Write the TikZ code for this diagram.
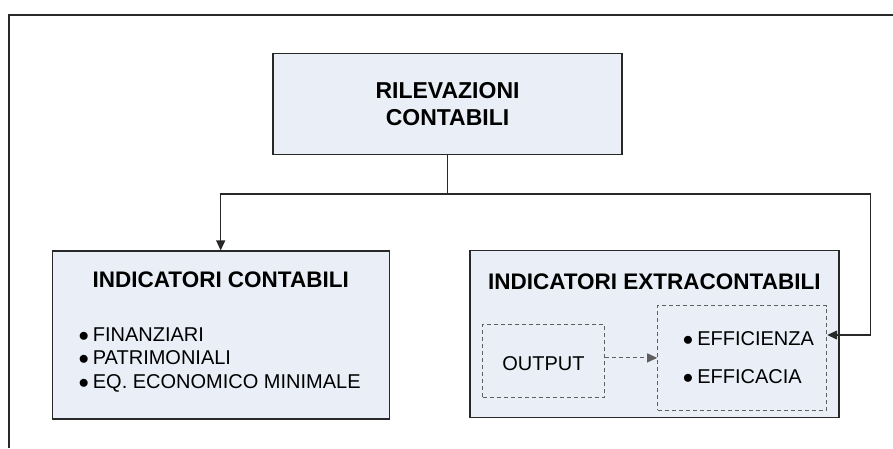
\documentclass[tikz,border=0pt]{standalone}
\usepackage{fontspec}
\setmainfont{Liberation Sans}
\usetikzlibrary{arrows.meta}
\definecolor{boxfill}{RGB}{234,239,247}
\definecolor{boxline}{RGB}{40,40,40}
\definecolor{dashline}{RGB}{95,95,95}

\begin{document}
\begin{tikzpicture}[x=1pt,y=-1pt,
    mainbox/.style={draw=boxline,line width=1.2pt,fill=boxfill,inner sep=0pt},
    dashbox/.style={draw=dashline,line width=1pt,dash pattern=on 4pt off 3pt,inner sep=0pt},
    boldtxt/.style={font=\fontsize{22.5}{27}\selectfont\bfseries,align=center,inner sep=0pt},
    itemtxt/.style={font=\fontsize{20}{24}\selectfont,inner sep=0pt,text height=14.3pt,text depth=0pt,anchor=west},
    conn/.style={draw=boxline,line width=1.2pt},
    tip/.style={-{Triangle[length=10pt,width=9pt]}}]
            \useasboundingbox (0,0) rectangle (893,448);
            \fill[white] (0,0) rectangle (893,448);
            \draw[boxline,line width=1.2pt] (9,448) -- (9,15) -- (893,15);
            % boxes
            \node[mainbox,minimum width=349pt,minimum height=101pt] (rilev) at (447.5,103.8) {};
            \node[mainbox,minimum width=337pt,minimum height=168pt] (contab) at (220.7,335) {};
            \node[mainbox,minimum width=369pt,minimum height=167.5pt] (extra) at (654.5,334) {};
            \node[dashbox,minimum width=121.6pt,minimum height=73.4pt] (output) at (543.5,361) {};
            \node[dashbox,minimum width=169pt,minimum height=104.3pt] (effic) at (742.2,357.9) {};
            % texts
            \node[boldtxt,font=\fontsize{23}{27}\selectfont\bfseries] (rilevtxt) at (447.5,104) {RILEVAZIONI\\CONTABILI};
            \node[boldtxt] (contabtxt) at (220.7,280) {INDICATORI CONTABILI};
            \node[boldtxt] (extratxt) at (654.3,282) {INDICATORI EXTRACONTABILI};
            \node[itemtxt] (fin) at (78.3,334) {$\bullet$\hspace{4pt}FINANZIARI};
            \node[itemtxt] (patr) at (78.3,357.5) {$\bullet$\hspace{4pt}PATRIMONIALI};
            \node[itemtxt] (eq) at (78.3,381) {$\bullet$\hspace{4pt}EQ. ECONOMICO MINIMALE};
            \node[itemtxt,anchor=center] (outtxt) at (543.5,363) {OUTPUT};
            \node[itemtxt] (effz) at (682.7,338.5) {$\bullet$\hspace{4pt}EFFICIENZA};
            \node[itemtxt] (effc) at (682.7,376.7) {$\bullet$\hspace{4pt}EFFICACIA};
            % connectors
            \coordinate (split) at (447.5,194);
            \coordinate (rturn) at (870.5,335);
            \draw[conn] (rilev.south) -- (split);
            \draw[conn,tip] (split) -| (contab.north);
            \draw[conn,tip] (split) -| (rturn) -- (rturn -| effic.east);
            \draw[draw=dashline,line width=1pt,dash pattern=on 4pt off 3pt,tip] (effic.west -| output.east) -- (effic.west);
        \end{tikzpicture}
\end{document}
